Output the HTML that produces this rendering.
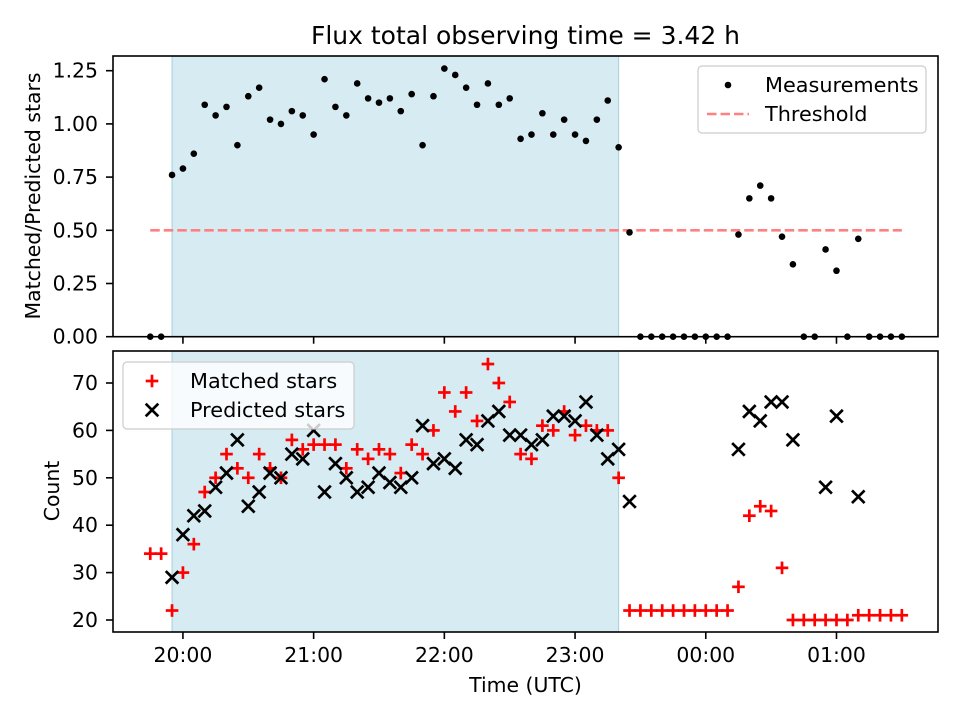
<!DOCTYPE html>
<html><head><meta charset="utf-8"><style>
html,body{margin:0;padding:0;background:#fff}
svg{display:block;font-family:"DejaVu Sans","Liberation Sans",sans-serif}
</style></head><body>
<svg id="fig" width="960" height="720" viewBox="0 0 960 720"></svg>
<script>
// ---- data (times in minutes after 20:00 UTC) ----
const startMin = -15;           // 19:45
const stepMin = 5;
const ratioValues = [0,0,0.76,0.79,0.86,1.09,1.04,1.08,0.90,1.13,1.17,1.02,1.00,1.06,1.04,0.95,1.21,1.08,1.04,1.19,1.12,1.10,1.12,1.06,1.14,0.90,1.13,1.26,1.23,1.17,1.09,1.19,1.09,1.12,0.93,0.95,1.05,0.95,1.02,0.95,0.92,1.02,1.11,0.89,0.49,0,0,0,0,0,0,0,0,0,0.48,0.65,0.71,0.65,0.47,0.34,0,0,0.41,0.31,0,0.46,0,0,0,0];
const matchedValues = [34,34,22,30,36,47,50,55,52,50,55,52,50,58,56,57,57,57,52,56,54,56,55,51,57,55,60,68,64,68,62,74,70,66,55,54,61,60,64,59,61,60,60,50,22,22,22,22,22,22,22,22,22,22,27,42,44,43,31,20,20,20,20,20,20,21,21,21,21,21];
const predictedValues = [null,null,29,38,42,43,48,51,58,44,47,51,50,55,54,60,47,53,50,47,48,51,49,48,50,61,53,54,52,58,57,62,64,59,59,57,58,63,63,62,66,59,54,56,45,null,null,null,null,null,null,null,null,null,56,64,62,66,66,58,null,null,48,63,null,46,null,null,null,null];
const thresholdValue = 0.5;
const spanStartMin = -5, spanEndMin = 200;
const xTickMinutes = [0,60,120,180,240,300];
const xTickLabels = ["20:00","21:00","22:00","23:00","00:00","01:00"];
const topYTicks = [0,0.25,0.5,0.75,1.0,1.25];
const topYTickLabels = ["0.00","0.25","0.50","0.75","1.00","1.25"];
const botYTicks = [20,30,40,50,60,70];
const botYTickLabels = ["20","30","40","50","60","70"];

// ---- geometry ----
const L=113, R=938;
const topT=56, topB=336.7, botT=351, botB=632;
const xMin=-32.1, xMax=346.6;
const x = m => L + (m - xMin) / (xMax - xMin) * (R - L);
const yTop = v => topB - v * 212.8;
const yBot = v => 620 - (v - 20) * 4.74;
const NS="http://www.w3.org/2000/svg";
const svg=document.getElementById('fig');
function mk(tag, attrs, parent){const e=document.createElementNS(NS,tag);for(const k in attrs)e.setAttribute(k,attrs[k]);(parent||svg).appendChild(e);return e;}
function txt(s, attrs, parent){const e=mk('text',attrs,parent);e.textContent=s;return e;}
const tOf = k => startMin + stepMin*k;

for (const [t,b,nm] of [[topT,topB,'top-axes'],[botT,botB,'bottom-axes']]) {
  const g=mk('g',{});
  
  
  const sp=mk('rect',{x:x(spanStartMin),y:t,width:x(spanEndMin)-x(spanStartMin),height:b-t,fill:'rgba(173,216,230,0.5)',stroke:'rgba(150,200,215,0.8)','stroke-width':1},g);
  
  
}

const th=mk('line',{x1:x(tOf(0)),x2:x(tOf(ratioValues.length-1)),y1:yTop(thresholdValue),y2:yTop(thresholdValue),stroke:'#ff8080','stroke-width':2.6,'stroke-dasharray':'9.5,4'});



ratioValues.forEach((v,k)=>{
  const c=mk('circle',{cx:x(tOf(k)),cy:yTop(v),r:3.3,fill:'#000'});
  
  
});

function plus(cx,cy,parent){const g=mk('g',{stroke:'#ff0000','stroke-width':2.7},parent);mk('line',{x1:cx-6.3,x2:cx+6.3,y1:cy,y2:cy},g);mk('line',{x1:cx,x2:cx,y1:cy-6.3,y2:cy+6.3},g);return g;}
function cross(cx,cy,parent){const g=mk('g',{stroke:'#000','stroke-width':2.7},parent);mk('line',{x1:cx-6.3,x2:cx+6.3,y1:cy-6.3,y2:cy+6.3},g);mk('line',{x1:cx-6.3,x2:cx+6.3,y1:cy+6.3,y2:cy-6.3},g);return g;}

matchedValues.forEach((v,k)=>{
  if(v===null)return;
  const g=plus(x(tOf(k)),yBot(v));
  
  
});
predictedValues.forEach((v,k)=>{
  if(v===null)return;
  const g=cross(x(tOf(k)),yBot(v));
  
  
});

mk('rect',{x:L,y:topT,width:R-L,height:topB-topT,fill:'none',stroke:'#000','stroke-width':1.6});
mk('rect',{x:L,y:botT,width:R-L,height:botB-botT,fill:'none',stroke:'#000','stroke-width':1.6});

const tickStyle={stroke:'#000','stroke-width':1.6};
xTickMinutes.forEach((m,i)=>{
  const xx=x(m);
  mk('line',Object.assign({x1:xx,x2:xx,y1:topB,y2:topB+7},tickStyle));
  mk('line',Object.assign({x1:xx,x2:xx,y1:botB,y2:botB+7},tickStyle));
  const t=txt(xTickLabels[i],{x:xx,y:662,'font-size':20.4,'text-anchor':'middle',fill:'#000'});
  
  
});
topYTicks.forEach((v,i)=>{
  const yy=yTop(v);
  mk('line',Object.assign({x1:L-7,x2:L,y1:yy,y2:yy},tickStyle));
  const t=txt(topYTickLabels[i],{x:98,y:yy+7,'font-size':20.4,'text-anchor':'end',fill:'#000'});
  
  
});
botYTicks.forEach((v,i)=>{
  const yy=yBot(v);
  mk('line',Object.assign({x1:L-7,x2:L,y1:yy,y2:yy},tickStyle));
  const t=txt(botYTickLabels[i],{x:98,y:yy+7,'font-size':20.4,'text-anchor':'end',fill:'#000'});
  
  
});

let e;
e=txt('Flux total observing time = 3.42 h',{x:525.5,y:44,'font-size':25,'text-anchor':'middle'});
 
e=txt('Time (UTC)',{x:525.5,y:692,'font-size':20.4,'text-anchor':'middle'});
 
e=txt('Matched/Predicted stars',{x:0,y:0,'font-size':20.4,'text-anchor':'middle',transform:'translate(40,196) rotate(-90)'});
 
e=txt('Count',{x:0,y:0,'font-size':20.4,'text-anchor':'middle',transform:'translate(59,491) rotate(-90)'});
 

const lg1=mk('g',{});


mk('rect',{x:698,y:66,width:228,height:67,rx:4,fill:'rgba(255,255,255,0.8)',stroke:'#ccc','stroke-width':1.2},lg1);
mk('circle',{cx:728,cy:85,r:3.3,fill:'#000'},lg1);
txt('Measurements',{x:765,y:92,'font-size':20.8},lg1);
mk('line',{x1:707,x2:749,y1:114,y2:114,stroke:'#ff8080','stroke-width':2.6,'stroke-dasharray':'9.5,4'},lg1);
txt('Threshold',{x:765,y:121,'font-size':20.8},lg1);

const lg2=mk('g',{});


mk('rect',{x:123,y:362,width:231,height:67,rx:4,fill:'rgba(255,255,255,0.8)',stroke:'#ccc','stroke-width':1.2},lg2);
plus(152,381,lg2);
txt('Matched stars',{x:190,y:388,'font-size':20.8},lg2);
cross(152,410,lg2);
txt('Predicted stars',{x:190,y:417,'font-size':20.8},lg2);
</script>
</body></html>
